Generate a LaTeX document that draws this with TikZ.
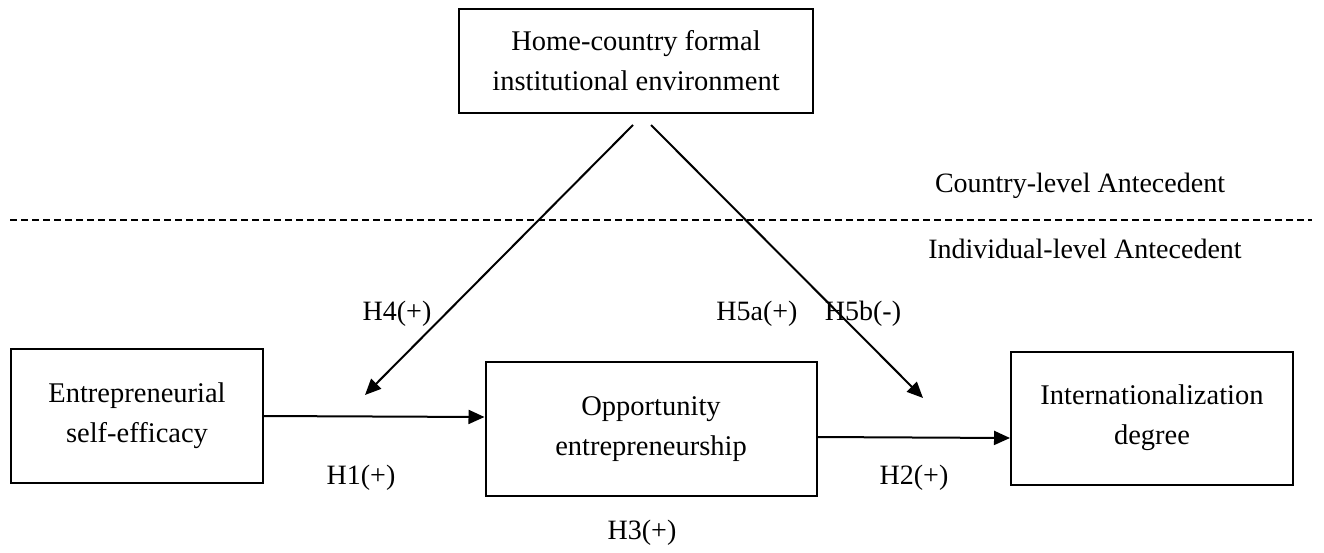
\documentclass[tikz,border=0pt]{standalone}
\usepackage{fontspec}
\setmainfont{Liberation Serif}
\usetikzlibrary{arrows.meta}
\begin{document}
\begin{tikzpicture}[x=1pt,y=-1pt,
  box/.style={draw, line width=2pt, align=center, inner sep=0pt, font=\fontsize{28.5}{40}\selectfont},
  lbl/.style={font=\fontsize{28}{34}\selectfont, inner sep=0pt},
  arr/.style={line width=2pt, -{Triangle[length=16pt,width=14pt]}}]
\useasboundingbox (0,0) rectangle (1324,552);
\node[box, minimum width=354pt, minimum height=104pt] (home) at (636,61) {Home-country formal\\institutional environment};
\node[box, minimum width=252pt, minimum height=134pt] (ese) at (137,416) {Entrepreneurial\\self-efficacy};
\node[box, minimum width=331pt, minimum height=134pt] (oe) at (651,429) {Opportunity\\entrepreneurship};
\node[box, minimum width=282pt, minimum height=133pt] (id) at (1152,418) {Internationalization\\degree};
\coordinate (s1) at (633,125);
\coordinate (s2) at (651,125);
\coordinate (t1) at (365,395);
\coordinate (t2) at (923,398);
\coordinate (d1) at (10,220);
\coordinate (d2) at (1312,220);
\draw[arr] (s1) -- (t1);
\draw[arr] (s2) -- (t2);
\draw[arr] (ese.east) -- ([yshift=12pt]oe.west);
\draw[arr] ([yshift=-8pt]oe.east) -- ([yshift=-20pt]id.west);
\draw[line width=1.6pt, dash pattern=on 7pt off 4pt] (d1) -- (d2);
\node[lbl] (cl) at (1080,186) {Country-level Antecedent};
\node[lbl] (il) at (1085,249) {Individual-level Antecedent};
\node[lbl] (h4) at (397,314) {H4(+)};
\node[lbl] (h5a) at (757,314) {H5a(+)};
\node[lbl] (h5b) at (863,314) {H5b(-)};
\node[lbl] (h1) at (361,478) {H1(+)};
\node[lbl] (h2) at (914,478) {H2(+)};
\node[lbl] (h3) at (642,533) {H3(+)};
\end{tikzpicture}
\end{document}
